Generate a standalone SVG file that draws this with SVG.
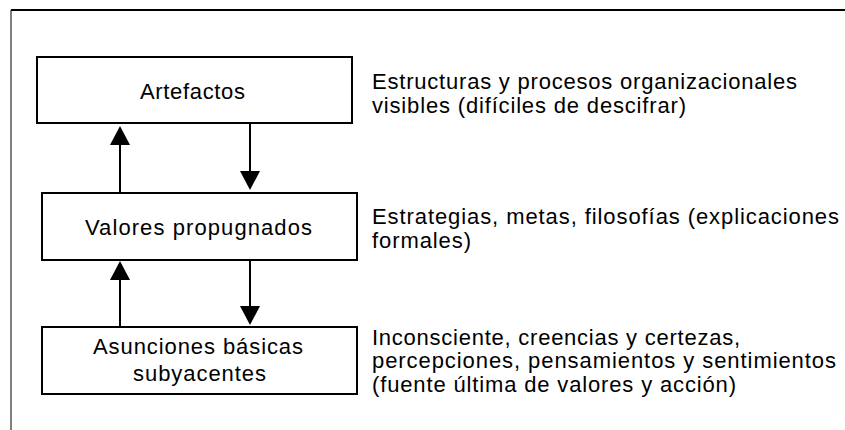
<svg xmlns="http://www.w3.org/2000/svg" width="845" height="430" viewBox="0 0 845 430">
<style>
.box{fill:#fff;stroke:#000;stroke-width:2}
.lbl{font-family:"Liberation Sans",Arial,sans-serif;font-size:22px;fill:#000;text-anchor:middle}
.desc{font-family:"Liberation Sans",Arial,sans-serif;font-size:22px;fill:#000}
.conn{stroke:#000;stroke-width:2;fill:none;marker-end:url(#head)}
</style>
<defs>
<marker id="head" markerUnits="userSpaceOnUse" markerWidth="20" markerHeight="20" refX="0" refY="10" orient="auto" viewBox="0 0 20 20">
<path d="M0,0 L19,10 L0,20 Z" fill="#000"/>
</marker>
</defs>
<rect width="845" height="430" fill="#fff"/>
<g id="frame">
<line x1="11" y1="10" x2="845" y2="10" stroke="#000" stroke-width="2"/>
<line x1="11" y1="10" x2="11" y2="430" stroke="#000" stroke-width="1"/>
</g>
<g id="artefactos">
<rect class="box" x="37" y="57" width="315" height="66"/>
<text class="lbl" x="192.5" y="99" textLength="105" lengthAdjust="spacing">Artefactos</text>
</g>
<g id="valores">
<rect class="box" x="42" y="193" width="315" height="67"/>
<text class="lbl" x="198.5" y="235" textLength="227" lengthAdjust="spacing">Valores propugnados</text>
</g>
<g id="asunciones">
<rect class="box" x="42" y="327" width="315" height="67"/>
<text class="lbl" x="198" y="354" textLength="210" lengthAdjust="spacing">Asunciones básicas</text>
<text class="lbl" x="199.5" y="381" textLength="133" lengthAdjust="spacing">subyacentes</text>
</g>
<g id="desc-artefactos">
<text class="desc" x="372" y="89" textLength="425" lengthAdjust="spacing">Estructuras y procesos organizacionales</text>
<text class="desc" x="372" y="113" textLength="314" lengthAdjust="spacing">visibles (difíciles de descifrar)</text>
</g>
<g id="desc-valores">
<text class="desc" x="372" y="224" textLength="467" lengthAdjust="spacing">Estrategias,  metas, filosofías (explicaciones</text>
<text class="desc" x="372" y="248" textLength="99" lengthAdjust="spacing">formales)</text>
</g>
<g id="desc-asunciones">
<text class="desc" x="372" y="345" textLength="368" lengthAdjust="spacing">Inconsciente, creencias y certezas,</text>
<text class="desc" x="372" y="368" textLength="464" lengthAdjust="spacing">percepciones, pensamientos y sentimientos</text>
<text class="desc" x="372" y="392" textLength="364" lengthAdjust="spacing">(fuente última de valores y acción)</text>
</g>
<g id="connectors">
<line class="conn" x1="120" y1="193" x2="120" y2="145"/>
<line class="conn" x1="250" y1="123" x2="250" y2="171"/>
<line class="conn" x1="120" y1="326" x2="120" y2="280"/>
<line class="conn" x1="250" y1="260" x2="250" y2="306"/>
</g>
</svg>
